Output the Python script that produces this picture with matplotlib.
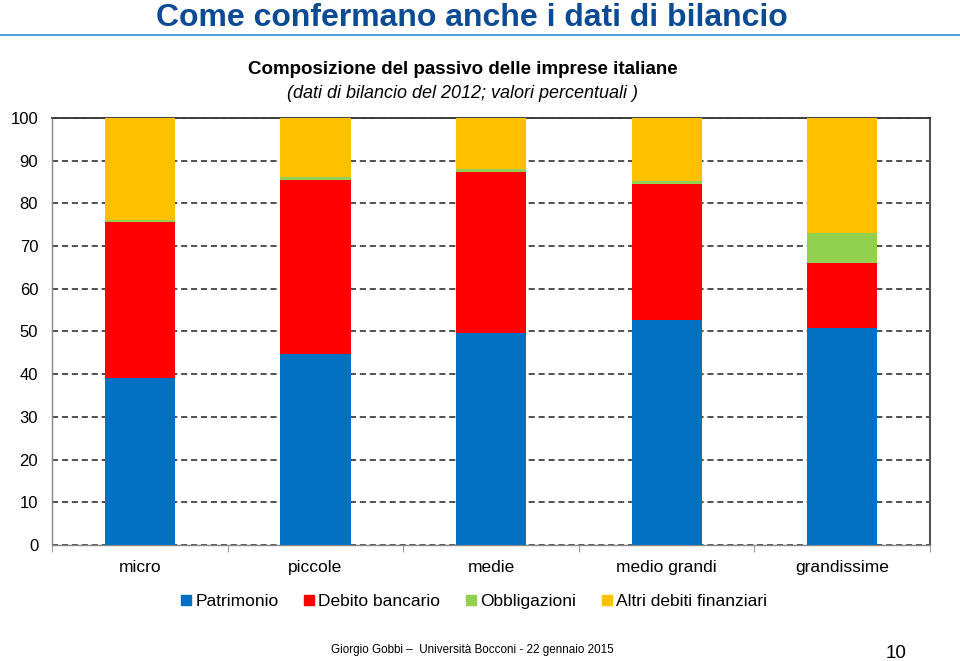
import matplotlib
matplotlib.use("Agg")
import matplotlib.pyplot as plt
import numpy as np
from matplotlib.lines import Line2D

categories = ["micro", "piccole", "medie", "medio grandi", "grandissime"]
series_names = ["Patrimonio", "Debito bancario", "Obbligazioni", "Altri debiti finanziari"]
patrimonio = [39.2, 44.7, 49.6, 52.7, 50.9]
debito_bancario = [36.5, 40.8, 37.7, 31.8, 15.2]
obbligazioni = [0.4, 0.6, 0.7, 0.7, 6.9]
altri_debiti = [23.9, 13.9, 12.0, 14.8, 27.0]
yticks = [0, 10, 20, 30, 40, 50, 60, 70, 80, 90, 100]

colors = ["#0070C0", "#FF0000", "#92D050", "#FFC000"]

plt.rcParams['font.family'] = ['Liberation Sans', 'DejaVu Sans']

fig = plt.figure(figsize=(9.6, 6.61), dpi=100)
ax = fig.add_axes([0.0542, 0.1755, 0.9146, 0.646])

x = np.arange(len(categories))
bottom = np.zeros(len(categories))
for vals, name, col in zip([patrimonio, debito_bancario, obbligazioni, altri_debiti], series_names, colors):
    ax.bar(x, vals, width=0.4, bottom=bottom, color=col, label=name, zorder=3)
    bottom += np.array(vals)

ax.set_xlim(-0.5, len(categories) - 0.5)
ax.set_ylim(0, 100)
ax.set_yticks(yticks)
ax.set_yticklabels([str(v) for v in yticks], fontsize=12)
ax.tick_params(axis='y', length=0, pad=10)
ax.yaxis.grid(True, linestyle=(0, (4, 2.5)), color='#222222', linewidth=1.1, zorder=1)
ax.set_axisbelow(True)

ax.set_xticks(x)
ax.set_xticklabels(categories, fontsize=12.5)
ax.tick_params(axis='x', length=0, pad=10.5)
ax.set_xticks(np.arange(-0.5, len(categories) + 0.5, 1), minor=True)
ax.tick_params(axis='x', which='minor', length=5, color='#888888', direction='out')

for s in ['left', 'bottom']:
    ax.spines[s].set_color('#888888')
    ax.spines[s].set_linewidth(1.0)
ax.spines['right'].set_color('#555555')
ax.spines['right'].set_linewidth(1.5)
ax.spines['top'].set_color('#333333')
ax.spines['top'].set_linewidth(1.3)

# legend
leg_handles = [Line2D([0], [0], marker='s', linestyle='none', markersize=6.5,
                      markerfacecolor=c, markeredgecolor=c) for c in colors]
fig.legend(leg_handles, series_names, loc='center', bbox_to_anchor=(0.493, 1 - 601 / 661),
           ncol=4, frameon=False, fontsize=12.5, handletextpad=0.2, columnspacing=1.4,
           handlelength=0.7)

# titles
fig.text(0.492, 1 - 26 / 661, "Come confermano anche i dati di bilancio", ha='center', va='baseline',
         fontsize=23, fontweight='bold', color='#0B4A95')
fig.add_artist(Line2D([0, 1], [1 - 35 / 661, 1 - 35 / 661], transform=fig.transFigure,
                      color='#4EA6DC', linewidth=1.5))
fig.text(0.482, 1 - 69.5 / 661, "Composizione del passivo delle imprese italiane", ha='center',
         va='center', fontsize=13.5, fontweight='bold', color='black')
fig.text(0.482, 1 - 94 / 661, "(dati di bilancio del 2012; valori percentuali )", ha='center',
         va='center', fontsize=13, fontstyle='italic', color='black')

# footer
fig.text(0.4925, 1 - 650 / 661, "Giorgio Gobbi \u2013  Università Bocconi - 22 gennaio 2015",
         ha='center', va='center', fontsize=8.4, color='black')
fig.text(0.9335, 1 - 653.5 / 661, "10", ha='center', va='center', fontsize=13.5, color='black')

fig.savefig("out.png", dpi=100)
